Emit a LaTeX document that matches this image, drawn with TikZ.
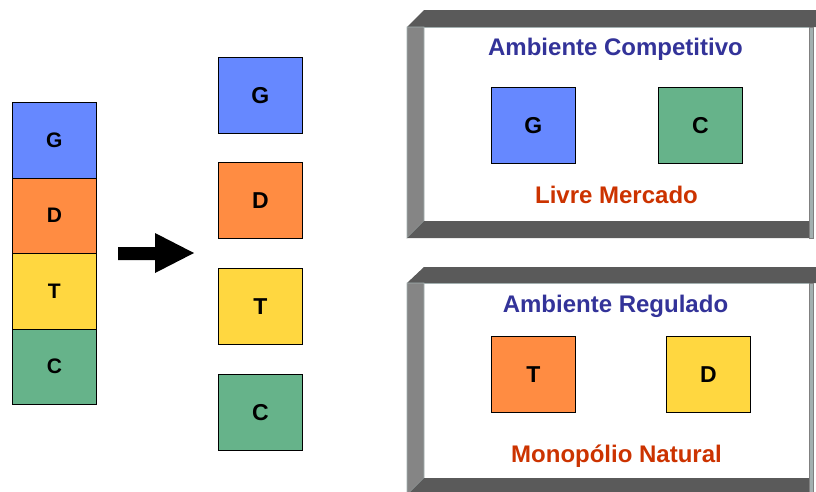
\documentclass[tikz,border=0pt]{standalone}
\usepackage{fontspec}
\setmainfont{Liberation Sans}
\definecolor{cG}{HTML}{6688FF}
\definecolor{cD}{HTML}{FF8C42}
\definecolor{cT}{HTML}{FFD740}
\definecolor{cC}{HTML}{66B38A}
\definecolor{ttlblue}{HTML}{333399}
\definecolor{ttlred}{HTML}{CC3300}
\definecolor{fdark}{HTML}{5A5A5A}
\definecolor{flight}{HTML}{858585}
\definecolor{fedge}{HTML}{A3B0B0}
\begin{document}
\begin{tikzpicture}[x=1pt,y=-1pt,
  cell/.style={draw=black, line width=0.8pt, minimum width=84pt, minimum height=75.5pt,
    inner sep=0pt, anchor=north west, font=\fontsize{21}{25}\selectfont\bfseries},
  mcell/.style={cell, font=\fontsize{23}{27}\selectfont\bfseries},
  fcell/.style={cell, font=\fontsize{23}{27}\selectfont\bfseries},
  ttl/.style={anchor=base, inner sep=0pt, font=\fontsize{24}{28}\selectfont\bfseries},
  darkface/.style={fill=fdark},
  lightface/.style={fill=flight, draw=fedge, line width=0.6pt},
  edgeface/.style={fill=fedge, draw=gray, line width=0.4pt}]
\clip (0,0) rectangle (816,491);
\useasboundingbox (0,0) rectangle (816,491);
\fill[white] (0,0) rectangle (816,491);

% left stack
\node[cell, fill=cG] (sG) at (12,102) {G};
\node[cell, fill=cD] (sD) at (12,177.5) {D};
\node[cell, fill=cT] (sT) at (12,253) {T};
\node[cell, fill=cC] (sC) at (12,328.5) {C};

% arrow
\fill[black] (118,247) -- (155,247) -- (155,233) -- (194,253) -- (155,273) -- (155,260) -- (118,260) -- cycle;

% middle column
\node[mcell, fill=cG] (mG) at (218,57) {G};
\node[mcell, fill=cD] (mD) at (218,162) {D};
\node[mcell, fill=cT] (mT) at (218,268) {T};
\node[mcell, fill=cC] (mC) at (218,374) {C};

% top frame
\fill[darkface] (407,27) -- (424,10) -- (816,10) -- (816,27) -- cycle;
\draw[lightface] (407,27) -- (424,27) -- (424,221) -- (407,238) -- cycle;
\fill[darkface] (407,238) -- (424,221) -- (809,221) -- (809,238) -- cycle;
\draw[edgeface] (809,27) rectangle (813,238);
\draw[fedge, line width=0.6pt] (424,27) -- (809,27);

\node[ttl, text=ttlblue] (t1) at (615.5,55) {Ambiente Competitivo};
\node[fcell, fill=cG] (fG) at (491,87) {G};
\node[fcell, fill=cC] (fC) at (658,87) {C};
\node[ttl, text=ttlred] (t2) at (616.5,203) {Livre Mercado};

% bottom frame
\fill[darkface] (407,283) -- (424,267) -- (816,267) -- (816,283) -- cycle;
\draw[lightface] (407,283) -- (424,283) -- (424,478) -- (407,495) -- cycle;
\fill[darkface] (407,495) -- (424,478) -- (809,478) -- (809,495) -- cycle;
\draw[edgeface] (809,283) rectangle (813,495);
\draw[fedge, line width=0.6pt] (424,283) -- (809,283);

\node[ttl, text=ttlblue] (t3) at (615.5,312) {Ambiente Regulado};
\node[fcell, fill=cD, text depth=-4pt] (fT) at (491,336) {T};
\node[fcell, fill=cT, text depth=-4pt] (fD) at (666,336) {D};
\node[ttl, text=ttlred] (t4) at (616.5,462) {Monopólio Natural};
\end{tikzpicture}
\end{document}
